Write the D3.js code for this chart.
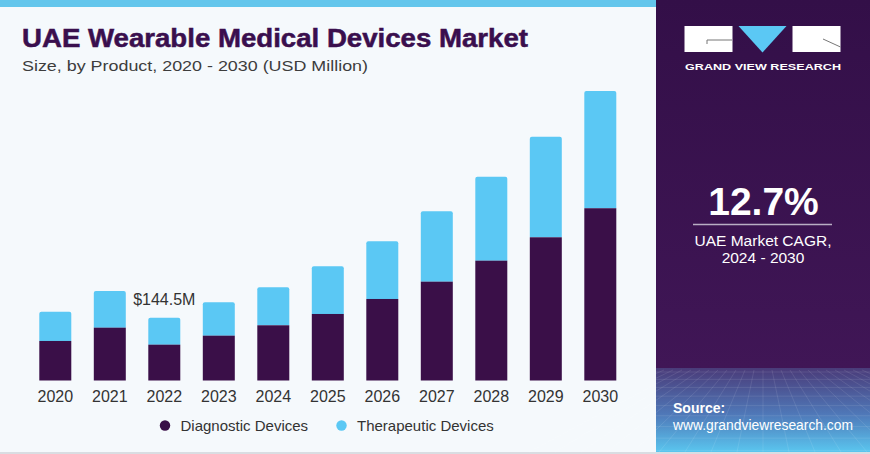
<!DOCTYPE html>
<html><head><meta charset="utf-8">
<script src="https://cdn.jsdelivr.net/npm/d3@7"></script>
<style>html,body{margin:0;padding:0;background:#fff;}svg{display:block;}</style>
</head><body>
<script>
const years = ["2020","2021","2022","2023","2024","2025","2026","2027","2028","2029","2030"];
const diagnostic = [90.9,121.5,82.4,103.1,127.0,153.0,187.5,227.3,275.6,329.4,396.2];
const therapeutic = [67.4,84.4,62.1,76.8,87.4,109.7,132.7,161.9,193.2,231.5,269.8];
const seriesNames = ["Diagnostic Devices","Therapeutic Devices"];
const annotation = {year:"2022", text:"$144.5M"};
const cagrValue = "12.7%";
const cagrLines = ["UAE Market CAGR,","2024 - 2030"];

const W=870,H=454;
const C_DIAG="#3a0f48", C_THER="#5bc8f4";
const svg=d3.select("body").append("svg").attr("width",W).attr("height",H);
const defs=svg.append("defs");
const g1=defs.append("linearGradient").attr("id","srcgrad").attr("x1",0).attr("y1",0).attr("x2",0).attr("y2",1);
g1.append("stop").attr("offset","0%").attr("stop-color","#4a3b79");
g1.append("stop").attr("offset","55%").attr("stop-color","#4f78b8");
g1.append("stop").attr("offset","100%").attr("stop-color","#5ac6ef");
const g0=defs.append("linearGradient").attr("id","pangrad").attr("x1",0).attr("y1",0).attr("x2",0).attr("y2",1);
g0.append("stop").attr("offset","0%").attr("stop-color","#330f48");
g0.append("stop").attr("offset","100%").attr("stop-color","#401656");

// backgrounds
svg.append("rect").attr("x",0).attr("y",0).attr("width",W).attr("height",H).attr("fill","#f5f9fc");
svg.append("rect").attr("x",0).attr("y",0).attr("width",656).attr("height",7).attr("fill","#63c6ec");
svg.append("rect").attr("x",0).attr("y",452).attr("width",W).attr("height",2).attr("fill","#d9dde2");
svg.append("rect").attr("x",656).attr("y",0).attr("width",W-656).attr("height",368).attr("fill","url(#pangrad)");
svg.append("rect").attr("x",656).attr("y",368).attr("width",W-656).attr("height",84).attr("fill","url(#srcgrad)");
const grid=svg.append("g").attr("stroke","#ffffff").attr("stroke-opacity",0.12).attr("stroke-width",0.8).attr("fill","none");
for(let i=0;i<12;i++){const yy=372+i*7+i*i*0.35;grid.append("line").attr("x1",656).attr("x2",W).attr("y1",yy).attr("y2",yy);}
for(let i=-12;i<=12;i++){grid.append("line").attr("x1",763+i*9).attr("y1",370).attr("x2",763+i*26).attr("y2",452);}

function fitText(sel,w){const l=sel.node().getComputedTextLength();if(l>0)sel.attr("textLength",w).attr("lengthAdjust","spacingAndGlyphs");}
const FF="Liberation Sans, Arial, sans-serif";
const title=svg.append("text").attr("x",22).attr("y",47).attr("font-family",FF)
 .attr("font-weight","bold").attr("font-size",25).attr("fill","#3a0f4e").attr("stroke","#3a0f4e").attr("stroke-width",0.5)
 .text("UAE Wearable Medical Devices Market");
fitText(title,506);
const sub=svg.append("text").attr("x",22).attr("y",71).attr("font-family",FF)
 .attr("font-size",15.5).attr("fill","#3d3d3d").text("Size, by Product, 2020 - 2030 (USD Million)");
fitText(sub,346);

// scales
const x=d3.scaleBand().domain(years).range([28.4,627.2]).paddingInner(0.413).paddingOuter(0.2);
const y=d3.scaleLinear().domain([0,700]).range([380.5,380.5-700/2.3]);
const data=years.map((yr,i)=>({yr,d:diagnostic[i],t:therapeutic[i]}));
const bars=svg.append("g");
bars.selectAll(".t").data(data).join("path").attr("fill",C_THER)
 .attr("d",d=>{const x0=x(d.yr),w=x.bandwidth(),yt=y(d.d+d.t),yb=y(d.d),r=2;
   return `M${x0},${yb}V${yt+r}Q${x0},${yt} ${x0+r},${yt}H${x0+w-r}Q${x0+w},${yt} ${x0+w},${yt+r}V${yb}Z`;});
bars.selectAll(".d").data(data).join("rect").attr("fill",C_DIAG)
 .attr("x",d=>x(d.yr)).attr("width",x.bandwidth()).attr("y",d=>y(d.d)).attr("height",d=>y(0)-y(d.d));

const ax=svg.append("g").attr("transform","translate(0,381)").call(d3.axisBottom(x).tickSize(0).tickPadding(6));
ax.select(".domain").remove();
ax.selectAll("text").attr("font-family",FF).attr("font-size",16).attr("fill","#333").attr("dy","0.95em");

const ad=data.find(d=>d.yr===annotation.year);
svg.append("text").attr("x",x(ad.yr)+x.bandwidth()/2).attr("y",y(ad.d+ad.t)-12.5).attr("text-anchor","middle")
 .attr("font-family",FF).attr("font-size",16).attr("fill","#333").text(annotation.text);

const leg=svg.append("g").attr("font-family",FF).attr("font-size",15).attr("fill","#333");
const lx=[165,341.5];
seriesNames.forEach((s,i)=>{
 leg.append("circle").attr("cx",lx[i]).attr("cy",425.5).attr("r",5.2).attr("fill",i?C_THER:C_DIAG);
 leg.append("text").attr("x",lx[i]+15.5).attr("y",431).text(s);
});

// logo
const lg=svg.append("g");
lg.append("rect").attr("x",684.5).attr("y",26).attr("width",48).attr("height",26).attr("fill","#fff");
lg.append("path").attr("d","M707,44V40H732").attr("stroke","#777").attr("stroke-width",1).attr("fill","none");
lg.append("path").attr("d","M738.5,26H786.5L762.5,52.5Z").attr("fill","#5bc8f4");
lg.append("rect").attr("x",792.5).attr("y",26).attr("width",48).attr("height",26).attr("fill","#fff");
lg.append("path").attr("d","M823,39L840.5,47").attr("stroke","#777").attr("stroke-width",1).attr("fill","none");
const lt=lg.append("text").attr("x",685).attr("y",69.5).attr("font-family",FF)
 .attr("font-weight","bold").attr("font-size",9.5).attr("fill","#fff").text("GRAND VIEW RESEARCH");
fitText(lt,156);

svg.append("text").attr("x",763.5).attr("y",215).attr("text-anchor","middle").attr("font-family",FF)
 .attr("font-weight","bold").attr("font-size",39).attr("fill","#fff").text(cagrValue);
svg.append("line").attr("x1",693).attr("x2",832).attr("y1",224.5).attr("y2",224.5).attr("stroke","#b9aec4").attr("stroke-width",1.5);
cagrLines.forEach((t,i)=>svg.append("text").attr("x",763).attr("y",246+i*17).attr("text-anchor","middle")
 .attr("font-family",FF).attr("font-size",15.5).attr("fill","#fff").text(t));

svg.append("text").attr("x",673).attr("y",413).attr("font-family",FF).attr("font-weight","bold")
 .attr("font-size",14).attr("fill","#fff").text("Source:");
const url=svg.append("text").attr("x",673).attr("y",430).attr("font-family",FF)
 .attr("font-size",14).attr("fill","#fff").text("www.grandviewresearch.com");
fitText(url,180);
</script>
</body></html>
